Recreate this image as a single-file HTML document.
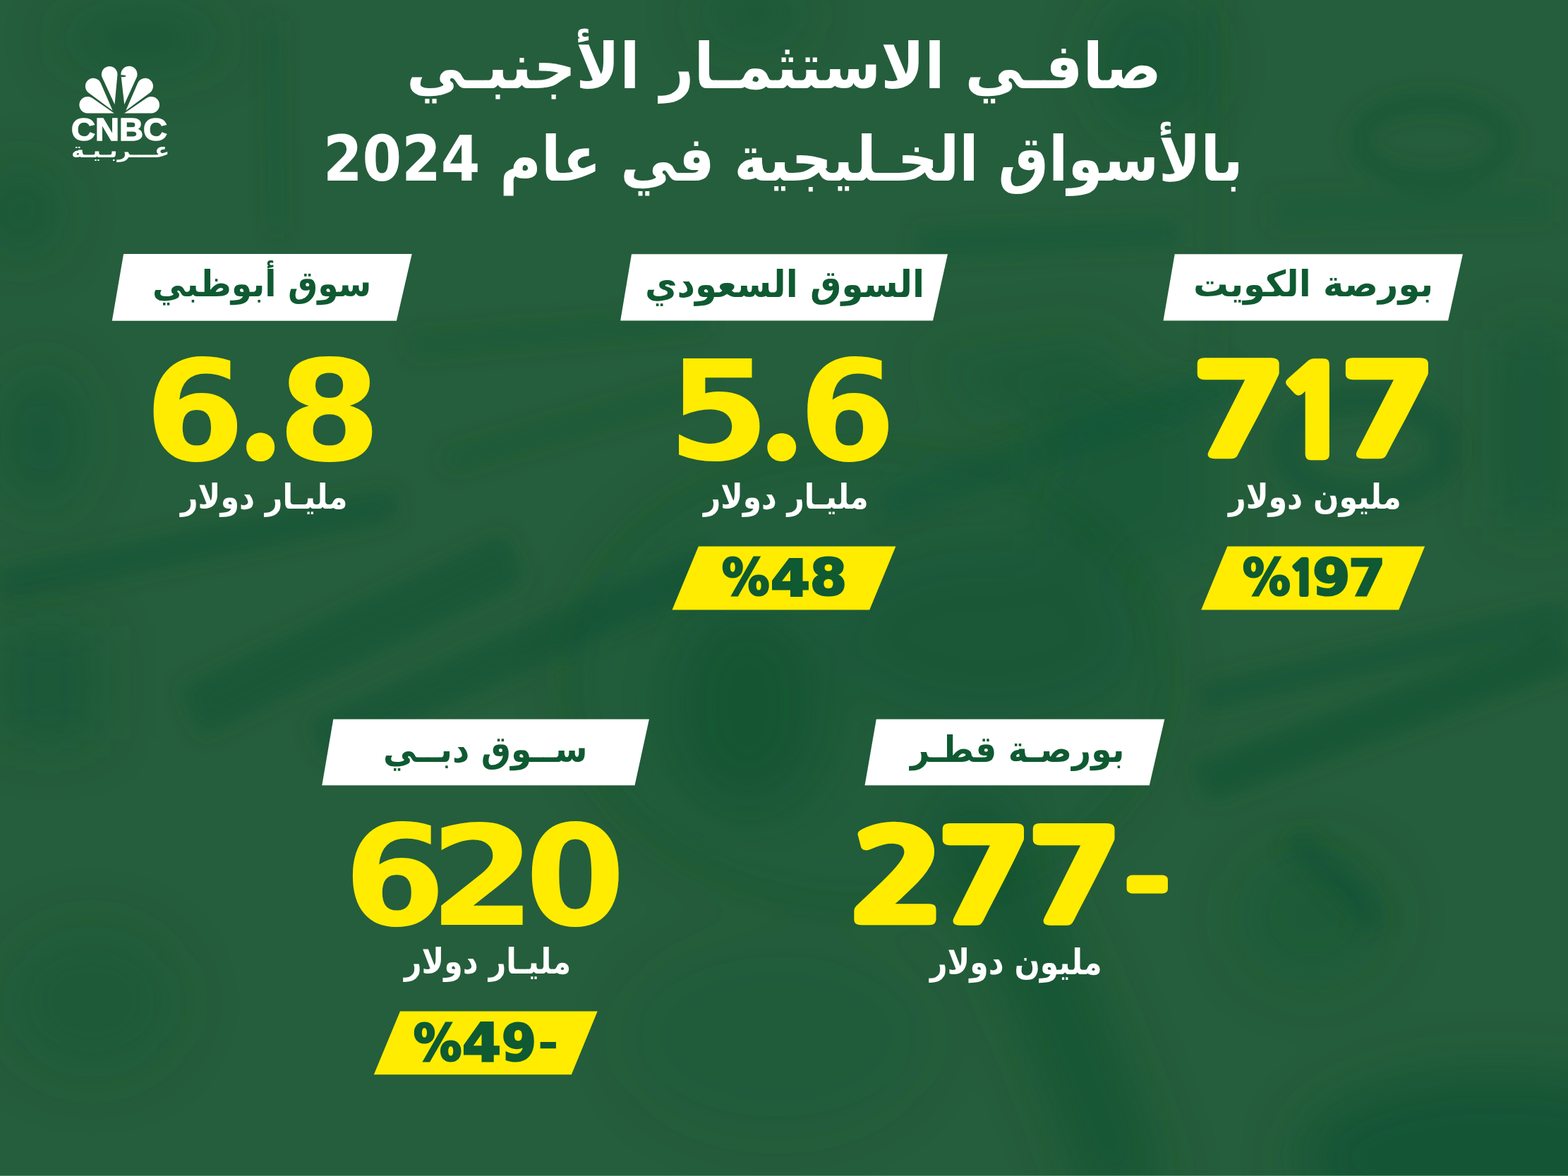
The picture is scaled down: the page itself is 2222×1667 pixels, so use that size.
<!DOCTYPE html>
<html lang="ar"><head><meta charset="utf-8"><title>صافي الاستثمار الأجنبي بالأسواق الخليجية في عام 2024</title>
<style>
html,body{margin:0;padding:0}
body{width:2222px;height:1667px;overflow:hidden;position:relative;background:#245d3c}
.t{position:absolute;white-space:nowrap;line-height:1;font-weight:bold;transform-origin:0 0}
svg{position:absolute;left:0;top:0}
</style></head><body>
<svg width="2222" height="1667" viewBox="0 0 2222 1667" style="position:absolute;left:0;top:0">
<defs>
<filter id="b1" x="-30%" y="-30%" width="160%" height="160%"><feGaussianBlur stdDeviation="40"/></filter>
<filter id="b2" x="-30%" y="-30%" width="160%" height="160%"><feGaussianBlur stdDeviation="14"/></filter>
</defs>
<rect width="2222" height="1667" fill="#255e3c"/>
<g filter="url(#b1)" fill="#0e4a2b">
<ellipse cx="200" cy="55" rx="120" ry="40" opacity="0.3"/>
<ellipse cx="1070" cy="20" rx="80" ry="40" opacity="0.3"/>
<ellipse cx="1630" cy="90" rx="80" ry="100" opacity="0.3"/>
<ellipse cx="30" cy="300" rx="50" ry="60" opacity="0.35"/>
<ellipse cx="1060" cy="1000" rx="110" ry="150" opacity="0.35"/>
<ellipse cx="1400" cy="900" rx="220" ry="120" opacity="0.22"/>
<ellipse cx="1230" cy="960" rx="430" ry="330" opacity="0.1"/>
<path d="M1350,1140 Q1480,1340 1600,1700" stroke="#0e4a2b" stroke-width="110" fill="none" opacity="0.4"/>
<ellipse cx="2120" cy="1640" rx="280" ry="120" opacity="0.45"/>
<ellipse cx="1860" cy="1300" rx="110" ry="100" opacity="0.2"/>
<ellipse cx="60" cy="620" rx="60" ry="100" opacity="0.3"/>
<rect x="0" y="888" width="135" height="160" opacity="0.3"/>
<rect x="1480" y="557" width="240" height="240" opacity="0.25"/>
<rect x="2122" y="467" width="100" height="280" opacity="0.3"/>
<ellipse cx="130" cy="1420" rx="130" ry="110" opacity="0.18"/>
<ellipse cx="1100" cy="1470" rx="220" ry="140" opacity="0.12"/>
<polygon points="1300,500 1560,470 1620,560 1380,600" opacity="0.22"/>
</g>
<g filter="url(#b2)" fill="none" stroke="#0e4a2b">
<line x1="388" y1="30" x2="392" y2="330" stroke-width="14" opacity="0.3"/>
<line x1="1719" y1="0" x2="1719" y2="500" stroke-width="10" opacity="0.25"/>
<ellipse cx="2030" cy="200" rx="105" ry="55" stroke-width="22" opacity="0.35"/>
<line x1="1800" y1="300" x2="2200" y2="290" stroke-width="50" opacity="0.15"/>
<ellipse cx="1935" cy="635" rx="115" ry="68" stroke-width="40" opacity="0.3"/>
<line x1="0" y1="830" x2="560" y2="715" stroke-width="45" opacity="0.3"/>
<line x1="270" y1="1010" x2="730" y2="790" stroke-width="75" opacity="0.3"/>
<line x1="450" y1="1050" x2="1000" y2="805" stroke-width="60" opacity="0.3"/>
<line x1="580" y1="490" x2="1000" y2="455" stroke-width="30" opacity="0.22"/>
<line x1="630" y1="655" x2="1000" y2="550" stroke-width="30" opacity="0.22"/>
<line x1="1700" y1="990" x2="2222" y2="870" stroke-width="40" opacity="0.3"/>
<line x1="1700" y1="1110" x2="2222" y2="920" stroke-width="60" opacity="0.35"/>
<path d="M1830,1190 Q1900,1240 1950,1310" stroke-width="40" opacity="0.3"/>
<ellipse cx="1230" cy="960" rx="420" ry="320" stroke-width="16" opacity="0.2"/>
<line x1="1300" y1="345" x2="1670" y2="330" stroke-width="40" opacity="0.25"/>
<line x1="1250" y1="720" x2="1750" y2="540" stroke-width="50" opacity="0.25"/>
</g>
<rect x="0" y="1666" width="2222" height="1" fill="#4f8866"/>
</svg>

<svg width="2222" height="1667" viewBox="0 0 2222 1667"><polygon points="175.1,360 583.7,360 561.9,454.8 158.8,454.8" fill="#ffffff"/><polygon points="895,360.2 1343,360.2 1322,454.6 879.2,454.6" fill="#ffffff"/><polygon points="1664.7,360.2 2072.9,360.2 2052.1,454.6 1648.5,454.6" fill="#ffffff"/><polygon points="472.3,1019.4 919.9,1019.4 899.5,1113.2 456.3,1113.2" fill="#ffffff"/><polygon points="1241.8,1019.4 1650.3,1019.4 1628.8,1113.2 1225.5,1113.2" fill="#ffffff"/><polygon points="989.8,774.6 1269.4,774.6 1232.2,864.4 952.5,864.4" fill="#ffec00"/><polygon points="1739.3,774.6 2019.1,774.6 1982.2,864.4 1702.2,864.4" fill="#ffec00"/><polygon points="567,1433.4 846.7,1433.4 809.8,1523.2 529.8,1523.2" fill="#ffec00"/></svg>
<svg style="left:100px;top:80px" width="160" height="160" viewBox="0 0 1659 1659"><g fill="#fff"><path d="M640.0,834.0 L250.0,834.0 A122,122 0 1 1 319.5,611.7 Z"/><path d="M618.0,795.0 L264.7,532.8 A118,118 0 1 1 443.3,391.2 Z"/><path d="M648.0,705.0 L465.8,311.1 A117,117 0 1 1 688.5,272.9 Z"/><path d="M790.0,705.0 L740.8,275.7 A120,120 0 1 1 969.2,311.8 Z"/><path d="M812.0,795.0 L986.7,391.2 A118,118 0 1 1 1165.3,532.8 Z"/><path d="M790.0,834.0 L1116.2,611.2 A122,122 0 1 1 1185.0,834.0 Z"/></g><polygon points="735,270 814,281 802,300 745,303" fill="#245c3b"/></svg>
<div class="t" dir="rtl" style="left:575.91px;top:49.5px;font-family:'DejaVu Sans',sans-serif;font-size:89.21px;color:#ffffff;transform:scale(0.9317,1.0)">صافـي الاستثمـار الأجنبـي</div><div class="t" dir="rtl" style="left:458.18px;top:181.8px;font-family:'DejaVu Sans',sans-serif;font-size:88.58px;color:#ffffff;transform:scale(0.9024,1.0)">بالأسواق الخـليجية في عام 2024</div><div class="t" dir="rtl" style="left:215.82px;top:377.3px;font-family:'DejaVu Sans',sans-serif;font-size:51.0px;color:#0f5a32;transform:scale(0.9278,1.0)">سوق أبوظبي</div><div class="t" dir="rtl" style="left:913.68px;top:377px;font-family:'DejaVu Sans',sans-serif;font-size:52.89px;color:#0f5a32;transform:scale(0.9407,1.0)">السوق السعودي</div><div class="t" dir="rtl" style="left:1691.47px;top:378px;font-family:'DejaVu Sans',sans-serif;font-size:50.84px;color:#0f5a32;transform:scale(0.9754,1.0)">بورصة الكويت</div><div class="t" dir="rtl" style="left:543.23px;top:1036.5px;font-family:'DejaVu Sans',sans-serif;font-size:51.32px;color:#0f5a32;transform:scale(0.9218,1.0)">ســوق دبــي</div><div class="t" dir="rtl" style="left:1289.54px;top:1036.5px;font-family:'DejaVu Sans',sans-serif;font-size:51.32px;color:#0f5a32;transform:scale(0.9192,1.0)">بورصـة قطـر</div><div class="t" dir="ltr" style="left:204.85px;top:483.94px;font-family:'DejaVu Sans',sans-serif;font-size:200.0px;color:#ffec00;transform:scale(1.0207,0.9934)">6</div><div class="t" dir="ltr" style="left:335.5px;top:480.13px;font-family:'Noto Sans CJK JP',sans-serif;font-size:182.73px;font-weight:900;color:#ffec00;transform:scale(1.0308,1.005)">.</div><div class="t" dir="ltr" style="left:392.92px;top:485.8px;font-family:'DejaVu Sans',sans-serif;font-size:197.37px;color:#ffec00;transform:scale(1.0735,1.0)">8</div><div class="t" dir="ltr" style="left:945.63px;top:486.41px;font-family:'DejaVu Sans',sans-serif;font-size:198.11px;color:#ffec00;transform:scale(1.0514,0.9905)">5</div><div class="t" dir="ltr" style="left:1074.21px;top:482.86px;font-family:'Noto Sans CJK JP',sans-serif;font-size:180.91px;font-weight:900;color:#ffec00;transform:scale(1.0605,0.995)">.</div><div class="t" dir="ltr" style="left:1132.23px;top:485.16px;font-family:'DejaVu Sans',sans-serif;font-size:199.73px;color:#ffec00;transform:scale(0.9888,0.9921)">6</div><div class="t" dir="ltr" style="left:1689.26px;top:497.37px;font-family:'NanumGothic',sans-serif;font-size:167.44px;font-weight:800;color:#ffec00;transform:scale(1.323,1.0435);-webkit-text-stroke:8px #ffec00">7</div><div class="t" dir="ltr" style="left:1807.15px;top:498.41px;font-family:'NanumGothic',sans-serif;font-size:167.44px;font-weight:800;color:#ffec00;transform:scale(1.1036,1.0435);-webkit-text-stroke:8px #ffec00">1</div><div class="t" dir="ltr" style="left:1898.78px;top:497.37px;font-family:'NanumGothic',sans-serif;font-size:167.44px;font-weight:800;color:#ffec00;transform:scale(1.3368,1.0435);-webkit-text-stroke:8px #ffec00">7</div><div class="t" dir="ltr" style="left:487.42px;top:1142.84px;font-family:'DejaVu Sans',sans-serif;font-size:200.0px;color:#ffec00;transform:scale(1.0397,0.9934)">6</div><div class="t" dir="ltr" style="left:607.69px;top:1144.93px;font-family:'DejaVu Sans',sans-serif;font-size:198.92px;color:#ffec00;transform:scale(1.0943,0.9879)">2</div><div class="t" dir="ltr" style="left:744.07px;top:1144.7px;font-family:'DejaVu Sans',sans-serif;font-size:197.37px;color:#ffec00;transform:scale(1.037,1.0)">0</div><div class="t" dir="ltr" style="left:1203.95px;top:1154.91px;font-family:'NanumGothic',sans-serif;font-size:169.08px;font-weight:800;color:#ffec00;transform:scale(1.3299,1.0433);-webkit-text-stroke:8px #ffec00">2</div><div class="t" dir="ltr" style="left:1327.91px;top:1156.64px;font-family:'NanumGothic',sans-serif;font-size:167.79px;font-weight:800;color:#ffec00;transform:scale(1.3148,1.0457);-webkit-text-stroke:8px #ffec00">7</div><div class="t" dir="ltr" style="left:1455.98px;top:1156.64px;font-family:'NanumGothic',sans-serif;font-size:167.79px;font-weight:800;color:#ffec00;transform:scale(1.3193,1.0457);-webkit-text-stroke:8px #ffec00">7</div><div class="t" dir="ltr" style="left:1594.2px;top:1192.44px;font-family:'NanumGothic',sans-serif;font-size:121.9px;font-weight:800;color:#ffec00;transform:scale(1.3512,1.113);-webkit-text-stroke:8px #ffec00">-</div><div class="t" dir="rtl" style="left:255.75px;top:681px;font-family:'DejaVu Sans',sans-serif;font-size:48.95px;color:#ffffff;transform:scale(0.8736,1.0)">مليـار دولار</div><div class="t" dir="rtl" style="left:996.73px;top:681.3px;font-family:'DejaVu Sans',sans-serif;font-size:48.79px;color:#ffffff;transform:scale(0.8657,1.0)">مليـار دولار</div><div class="t" dir="rtl" style="left:1740.75px;top:681.3px;font-family:'DejaVu Sans',sans-serif;font-size:48.79px;color:#ffffff;transform:scale(0.8773,1.0)">مليون دولار</div><div class="t" dir="rtl" style="left:572.72px;top:1339.2px;font-family:'DejaVu Sans',sans-serif;font-size:49.58px;color:#ffffff;transform:scale(0.8608,1.0)">مليـار دولار</div><div class="t" dir="rtl" style="left:1318.21px;top:1339.9px;font-family:'DejaVu Sans',sans-serif;font-size:49.74px;color:#ffffff;transform:scale(0.8569,1.0)">مليون دولار</div><div class="t" dir="ltr" style="left:1023.16px;top:784.35px;font-family:'DejaVu Sans',sans-serif;font-size:71.75px;color:#0f5a32;transform:scale(0.9386,0.9897);-webkit-text-stroke:3px #0f5a32">%</div><div class="t" dir="ltr" style="left:1091.62px;top:784.19px;font-family:'DejaVu Sans',sans-serif;font-size:73.95px;color:#0f5a32;transform:scale(1.0875,0.969);-webkit-text-stroke:3px #0f5a32">4</div><div class="t" dir="ltr" style="left:1148.42px;top:784.44px;font-family:'DejaVu Sans',sans-serif;font-size:72.66px;color:#0f5a32;transform:scale(1.0267,0.9729);-webkit-text-stroke:3px #0f5a32">8</div><div class="t" dir="ltr" style="left:1761.06px;top:784.35px;font-family:'DejaVu Sans',sans-serif;font-size:71.75px;color:#0f5a32;transform:scale(0.9414,0.9897);-webkit-text-stroke:3px #0f5a32">%</div><div class="t" dir="ltr" style="left:1826.16px;top:788.06px;font-family:'NanumGothic',sans-serif;font-size:68.54px;font-weight:800;color:#0f5a32;transform:scale(0.9875,0.969);-webkit-text-stroke:4px #0f5a32">1</div><div class="t" dir="ltr" style="left:1859.89px;top:784.44px;font-family:'DejaVu Sans',sans-serif;font-size:72.66px;color:#0f5a32;transform:scale(1.0533,0.9729);-webkit-text-stroke:3px #0f5a32">9</div><div class="t" dir="ltr" style="left:1911.16px;top:784.19px;font-family:'DejaVu Sans',sans-serif;font-size:73.95px;color:#0f5a32;transform:scale(1.0136,0.969);-webkit-text-stroke:3px #0f5a32">7</div><div class="t" dir="ltr" style="left:586.05px;top:1442.24px;font-family:'DejaVu Sans',sans-serif;font-size:72.0px;color:#0f5a32;transform:scale(0.9457,0.9931);-webkit-text-stroke:3px #0f5a32">%</div><div class="t" dir="ltr" style="left:655.06px;top:1441.99px;font-family:'DejaVu Sans',sans-serif;font-size:73.82px;color:#0f5a32;transform:scale(1.0708,1.0018);-webkit-text-stroke:3px #0f5a32">4</div><div class="t" dir="ltr" style="left:711.37px;top:1443.32px;font-family:'DejaVu Sans',sans-serif;font-size:72.91px;color:#0f5a32;transform:scale(0.963,0.9763);-webkit-text-stroke:3px #0f5a32">9</div><div class="t" dir="ltr" style="left:763.54px;top:1457.14px;font-family:'DejaVu Sans',sans-serif;font-size:52.78px;color:#0f5a32;transform:scale(1.165,0.8636);-webkit-text-stroke:3px #0f5a32">-</div><div class="t" dir="ltr" style="left:100.97px;top:162.07px;font-family:'Liberation Sans',sans-serif;font-size:45.89px;color:#ffffff;transform:scale(1.0267,0.9853);-webkit-text-stroke:1.5px #ffffff">CNBC</div><div class="t" dir="rtl" style="left:100.79px;top:199.0px;font-family:'DejaVu Sans',sans-serif;font-size:28.57px;color:#ffffff;transform:scale(1.1074,1.0)">عـــربـيـة</div>
</body></html>
